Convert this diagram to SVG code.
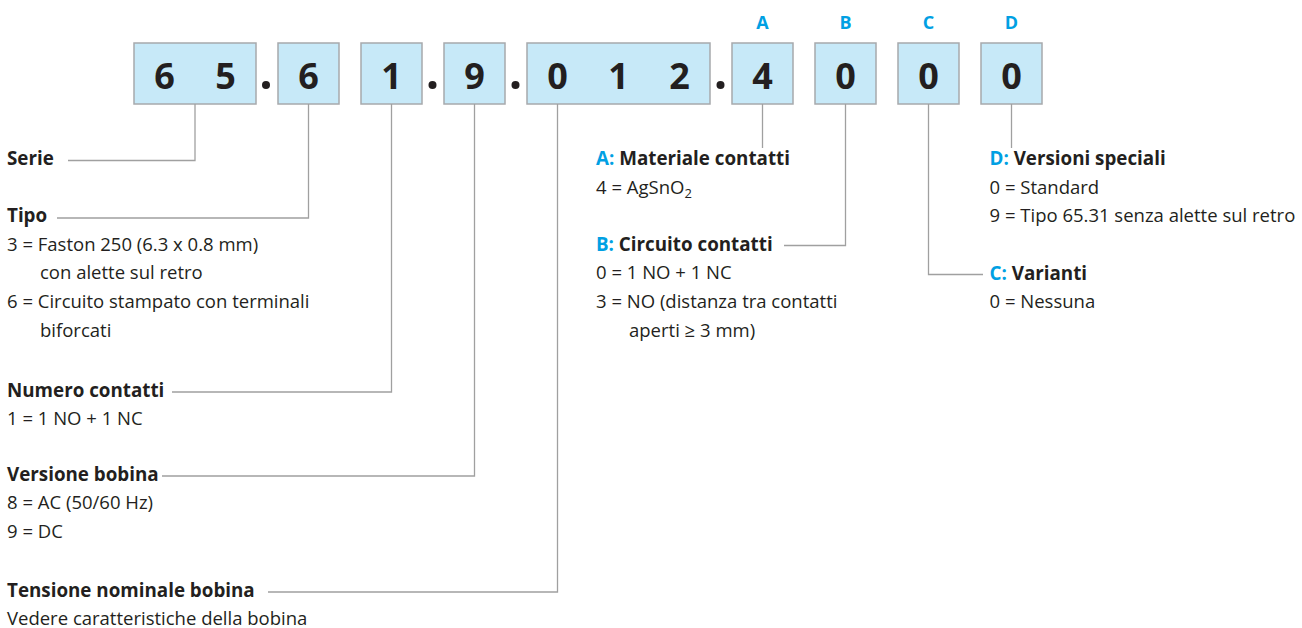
<svg xmlns="http://www.w3.org/2000/svg" width="1302" height="628" viewBox="0 0 1302 628">
<style>
.box{fill:#c7e9f8;stroke:#a7a9ac;stroke-width:1.5}
.dig{font-family:"Open Sans","Liberation Sans",sans-serif;font-weight:700;font-size:36px;fill:#231f20;text-anchor:middle}
.let{font-family:"Open Sans","Liberation Sans",sans-serif;font-weight:700;font-size:18px;fill:#00a0e3;text-anchor:middle}
.h{font-family:"Open Sans","Liberation Sans",sans-serif;font-weight:700;font-size:18.8px;fill:#231f20}
.t{font-family:"Open Sans","Liberation Sans",sans-serif;font-size:18.5px;fill:#231f20}
.b{fill:#00a0e3}
.dot{fill:#231f20}
.ln{fill:none;stroke:#a0a0a0;stroke-width:1.3}
</style>
<g id="code">
<g id="box-65"><rect class="box" x="134" y="43" width="122" height="61"/><text class="dig" x="164.5" y="89">6</text><text class="dig" x="225.5" y="89">5</text></g>
<circle class="dot" cx="266" cy="85" r="4"/>
<g id="box-6"><rect class="box" x="278" y="43" width="61" height="61"/><text class="dig" x="308.5" y="89">6</text></g>
<g id="box-1"><rect class="box" x="361" y="43" width="61" height="61"/><text class="dig" x="391.5" y="89">1</text></g>
<circle class="dot" cx="432.5" cy="85" r="4"/>
<g id="box-9"><rect class="box" x="444" y="43" width="61" height="61"/><text class="dig" x="474.5" y="89">9</text></g>
<circle class="dot" cx="515.5" cy="85" r="4"/>
<g id="box-012"><rect class="box" x="527" y="43" width="183" height="61"/><text class="dig" x="557.5" y="89">0</text><text class="dig" x="618.5" y="89">1</text><text class="dig" x="679.5" y="89">2</text></g>
<circle class="dot" cx="720.5" cy="85" r="4"/>
<g id="box-A"><text class="let" x="762.5" y="29">A</text><rect class="box" x="732" y="43" width="61" height="61"/><text class="dig" x="762.5" y="89">4</text></g>
<g id="box-B"><text class="let" x="845.5" y="29">B</text><rect class="box" x="815" y="43" width="61" height="61"/><text class="dig" x="845.5" y="89">0</text></g>
<g id="box-C"><text class="let" x="928.5" y="29">C</text><rect class="box" x="898" y="43" width="61" height="61"/><text class="dig" x="928.5" y="89">0</text></g>
<g id="box-D"><text class="let" x="1011.5" y="29">D</text><rect class="box" x="981" y="43" width="61" height="61"/><text class="dig" x="1011.5" y="89">0</text></g>
</g>
<g id="connectors">
<polyline class="ln" points="195,104 195,160.5 68,160.5"/>
<polyline class="ln" points="308.5,104 308.5,218 57,218"/>
<polyline class="ln" points="391.5,104 391.5,392 172,392"/>
<polyline class="ln" points="474.5,104 474.5,476 162,476"/>
<polyline class="ln" points="557.5,104 557.5,592 268,592"/>
<polyline class="ln" points="762.5,104 762.5,148"/>
<polyline class="ln" points="845.5,104 845.5,245.5 784,245.5"/>
<polyline class="ln" points="928.5,104 928.5,274.5 983,274.5"/>
<polyline class="ln" points="1011.5,104 1011.5,148"/>
</g>
<g id="serie"><text class="h" x="7" y="165">Serie</text></g>
<g id="tipo">
<text class="h" x="7" y="222">Tipo</text>
<text class="t" x="7" y="250.5">3 = Faston 250 (6.3 x 0.8 mm)</text>
<text class="t" x="40" y="279">con alette sul retro</text>
<text class="t" x="7" y="308">6 = Circuito stampato con terminali</text>
<text class="t" x="40" y="336.5">biforcati</text>
</g>
<g id="numero">
<text class="h" x="7" y="396.5">Numero contatti</text>
<text class="t" x="7" y="425">1 = 1 NO + 1 NC</text>
</g>
<g id="versione">
<text class="h" x="7" y="480.5">Versione bobina</text>
<text class="t" x="7" y="509">8 = AC (50/60 Hz)</text>
<text class="t" x="7" y="537.5">9 = DC</text>
</g>
<g id="tensione">
<text class="h" x="7" y="596.5">Tensione nominale bobina</text>
<text class="t" x="7" y="625">Vedere caratteristiche della bobina</text>
</g>
<g id="materiale">
<text class="h" x="596" y="165"><tspan class="b">A:</tspan> Materiale contatti</text>
<text class="t" x="596" y="193.5">4 = AgSnO<tspan font-size="13" dy="4">2</tspan></text>
</g>
<g id="circuito">
<text class="h" x="596" y="250.5"><tspan class="b">B:</tspan> Circuito contatti</text>
<text class="t" x="596" y="279">0 = 1 NO + 1 NC</text>
<text class="t" x="596" y="308">3 = NO (distanza tra contatti</text>
<text class="t" x="629" y="336.5">aperti ≥ 3 mm)</text>
</g>
<g id="versioni">
<text class="h" x="989.5" y="165"><tspan class="b">D:</tspan> Versioni speciali</text>
<text class="t" x="989.5" y="193.5">0 = Standard</text>
<text class="t" x="989.5" y="222">9 = Tipo 65.31 senza alette sul retro</text>
</g>
<g id="varianti">
<text class="h" x="989.5" y="279.5"><tspan class="b">C:</tspan> Varianti</text>
<text class="t" x="989.5" y="308">0 = Nessuna</text>
</g>
</svg>
